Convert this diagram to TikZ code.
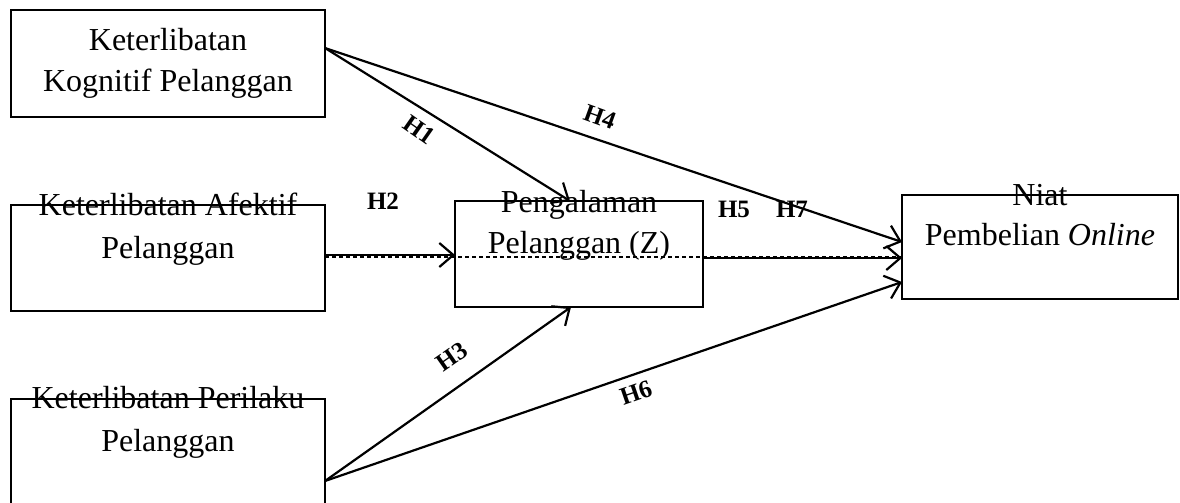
\documentclass[tikz,border=0pt]{standalone}
\usepackage{fontspec}
\setmainfont{Liberation Serif}
\usetikzlibrary{arrows.meta}
\begin{document}
\begin{tikzpicture}[x=0.5pt,y=-0.5pt,
  box/.style={draw, line width=1.2pt, inner sep=0pt, outer sep=0pt},
  txt/.style={anchor=base, inner sep=0pt, font=\fontsize{16}{20}\selectfont},
  hl/.style={inner sep=0pt, font=\fontsize{12.5}{14}\selectfont\bfseries},
  arr/.style={-{Straight Barb[length=7pt,width=12pt]}, line width=1.1pt},
  dashline/.style={line width=1.1pt, dash pattern=on 2pt off 1.5pt}]
\useasboundingbox (0,0) rectangle (1180,503);
\clip (0,0) rectangle (1180,503);
% boxes
\node[box, minimum width=157pt, minimum height=53.5pt] (k1) at (168,63.5) {};
\node[box, minimum width=157pt, minimum height=53pt] (k2) at (168,258) {};
\node[box, minimum width=157pt, minimum height=60.5pt] (k3) at (168,459.5) {};
\node[box, minimum width=124pt, minimum height=53pt] (z) at (579,254) {};
\node[box, minimum width=138pt, minimum height=52pt] (y) at (1040,247) {};
% texts
\node[txt] (k1a) at (168,50) {Keterlibatan};
\node[txt] (k1b) at (168,91) {Kognitif Pelanggan};
\node[txt] (k2a) at (168,215) {Keterlibatan Afektif};
\node[txt] (k2b) at (168,258) {Pelanggan};
\node[txt] (k3a) at (168,408) {Keterlibatan Perilaku};
\node[txt] (k3b) at (168,451) {Pelanggan};
\node[txt] (za) at (579,212) {Pengalaman};
\node[txt] (zb) at (579,253) {Pelanggan (Z)};
\node[txt] (ya) at (1040,205) {Niat};
\node[txt] (yb) at (1040,245) {Pembelian \textit{Online}};
% ports
\coordinate (k1o) at (325,48);
\coordinate (k2o) at (325,255);
\coordinate (k3o) at (325,481);
\coordinate (zt) at (570,201);
\coordinate (zb1) at (571,307);
\coordinate (zl) at (455,255);
\coordinate (zr) at (703,258);
\coordinate (yi1) at (902,242);
\coordinate (yi2) at (902,258);
\coordinate (yi3) at (902,282);
\coordinate (dl) at (325,257);
\coordinate (dr) at (902,257);
% connectors
\draw[arr] (k1o) -- (zt);
\draw[arr] (k1o) -- (yi1);
\draw[arr] (k2o) -- (zl);
\draw[dashline] (dl) -- (dr);
\draw[arr] (zr) -- (yi2);
\draw[arr] (k3o) -- (zb1);
\draw[arr] (k3o) -- (yi3);
% labels
\node[hl, rotate=-35] (h1) at (419,130) {H1};
\node[hl, rotate=-20] (h4) at (600,117) {H4};
\node[hl] (h2) at (383,201) {H2};
\node[hl] (h5) at (734,209) {H5};
\node[hl] (h7) at (792,209) {H7};
\node[hl, rotate=35] (h3) at (452,357) {H3};
\node[hl, rotate=19] (h6) at (636,393) {H6};
\end{tikzpicture}
\end{document}
